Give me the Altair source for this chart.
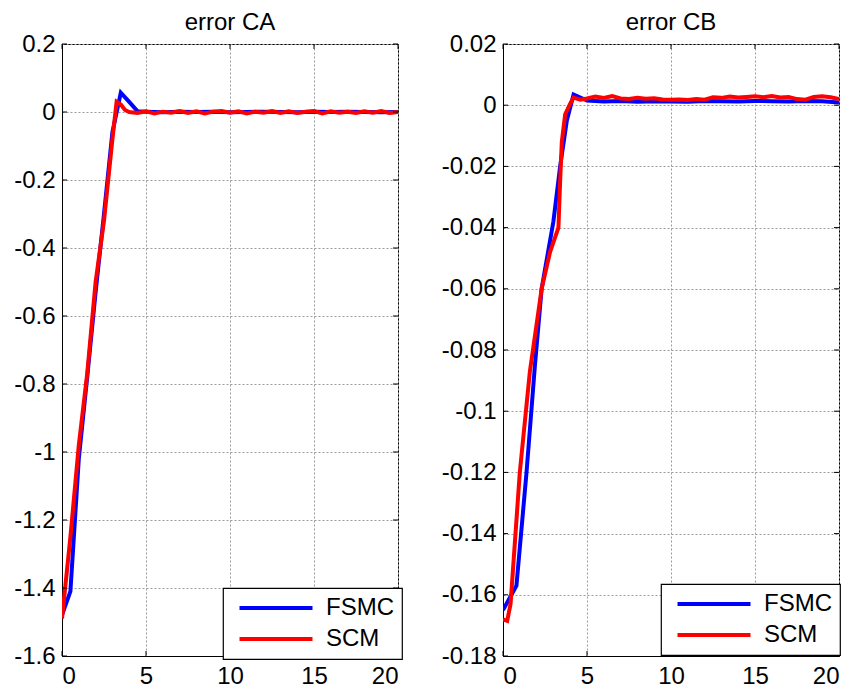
import altair as alt
import pandas as pd

# ---------------- data ----------------
x_ticks = [0, 5, 10, 15, 20]
y_ticks_ca = [-1.6, -1.4, -1.2, -1.0, -0.8, -0.6, -0.4, -0.2, 0.0, 0.2]
y_ticks_cb = [-0.18, -0.16, -0.14, -0.12, -0.10, -0.08, -0.06, -0.04, -0.02, 0.0, 0.02]

# error CA
t_fsmc_ca = [0, 0.5, 1.0, 1.5, 2.0, 2.5, 3.0, 3.5, 4.0, 4.5,
             5, 6, 7, 8, 9, 10, 11, 12, 13, 14, 15, 16, 17, 18, 19, 20]
v_fsmc_ca = [-1.48, -1.41, -1.02, -0.78, -0.53, -0.30, -0.06, 0.057, 0.03, 0.002,
             0.001, -0.001, 0.001, 0.0, 0.001, -0.001, 0.0, 0.001, 0.0, -0.001,
             0.001, 0.0, 0.001, 0.0, -0.001, 0.0]
t_scm_ca = [0, 0.5, 1.0, 1.5, 2.0, 2.5, 3.0, 3.25, 3.5, 3.75, 4.0,
            4.5, 5.0, 5.5, 6.0, 6.5, 7.0, 7.5, 8.0, 8.5, 9.0, 9.5, 10.0, 10.5, 11.0,
            11.5, 12.0, 12.5, 13.0, 13.5, 14.0, 14.5, 15.0, 15.5, 16.0, 16.5, 17.0,
            17.5, 18.0, 18.5, 19.0, 19.5, 20.0]
v_scm_ca = [-1.49, -1.25, -0.98, -0.77, -0.50, -0.32, -0.08, 0.03, 0.022, 0.006, 0.0,
            -0.003, 0.002, -0.004, 0.001, -0.002, 0.003, -0.003, 0.002, -0.004, 0.001,
            0.003, -0.002, 0.002, -0.004, 0.001, -0.002, 0.003, -0.003, 0.002, -0.003,
            0.001, 0.003, -0.004, 0.002, -0.002, 0.001, -0.003, 0.002, -0.002, 0.003,
            -0.003, 0.0]

# error CB
t_fsmc_cb = [0, 0.8, 1.4, 1.9, 2.3, 3.0, 3.4, 3.8, 4.2, 4.6, 5.0,
             6, 7, 8, 9, 10, 11, 12, 13, 14, 15, 16, 17, 18, 19, 20]
v_fsmc_cb = [-0.165, -0.157, -0.12, -0.085, -0.06, -0.038, -0.02, -0.005, 0.0035, 0.0025, 0.0015,
             0.0012, 0.0014, 0.0011, 0.0013, 0.0012, 0.0011, 0.0014, 0.0013, 0.0012, 0.0014,
             0.0013, 0.0012, 0.0014, 0.0013, 0.0009]
t_scm_cb = [0, 0.25, 0.45, 1.0, 1.6, 2.3, 2.8, 3.3, 3.4, 3.5, 3.7, 4.0, 4.2, 4.6,
            5.0, 5.5, 6.0, 6.5, 7.0, 7.5, 8.0, 8.5, 9.0, 9.5, 10.0, 10.5, 11.0, 11.5,
            12.0, 12.5, 13.0, 13.5, 14.0, 14.5, 15.0, 15.5, 16.0, 16.5, 17.0, 17.5,
            18.0, 18.5, 19.0, 19.5, 20.0]
v_scm_cb = [-0.168, -0.1685, -0.163, -0.12, -0.087, -0.06, -0.048, -0.04, -0.025, -0.012,
            -0.003, 0.0005, 0.0025, 0.0018,
            0.0022, 0.0028, 0.0024, 0.0030, 0.0022, 0.0020, 0.0024, 0.0021, 0.0023, 0.0019,
            0.0018, 0.0019, 0.0017, 0.0020, 0.0018, 0.0026, 0.0024, 0.0028, 0.0025, 0.0027,
            0.0029, 0.0026, 0.0030, 0.0025, 0.0027, 0.0020, 0.0018, 0.0027, 0.0029, 0.0026,
            0.0020]

series_names = ["FSMC", "SCM"]
series_colors = ["#0000ff", "#ff0000"]

# ---------------- styling ----------------
FONT = "Liberation Sans"
FS = 24
W, H = 336, 612


def panel(t_f, v_f, t_s, v_s, yticks, title, rnd, lx, ly):
    df = pd.DataFrame({
        "t": t_f + t_s,
        "v": v_f + v_s,
        "series": ["FSMC"] * len(t_f) + ["SCM"] * len(t_s),
    })
    x_enc = alt.X("t:Q", scale=alt.Scale(domain=[0, 20], nice=False),
                  axis=alt.Axis(values=x_ticks, title=None, labelPadding=8))
    y_enc = alt.Y("v:Q", scale=alt.Scale(domain=[yticks[0], yticks[-1]], nice=False, zero=False),
                  axis=alt.Axis(values=yticks, title=None, labelPadding=7,
                                labelExpr=f"'' + round(datum.value*{rnd})/{rnd}"))
    lines = alt.Chart(df).mark_line(strokeWidth=4, clip=True).encode(
        x=x_enc, y=y_enc,
        color=alt.Color("series:N",
                        scale=alt.Scale(domain=series_names, range=series_colors),
                        legend=alt.Legend(
                            title=None, orient="none", legendX=lx, legendY=ly,
                            fillColor="white", strokeColor="black",
                            padding=8, symbolOffset=33,
                            symbolType="M-4,0H4", symbolSize=333, symbolStrokeWidth=4,
                            labelFont=FONT, labelFontSize=FS, labelColor="black",
                            labelOffset=38, rowPadding=7,
                            labelExpr="datum.label + '  '")),
    )
    xt = pd.DataFrame({"t": x_ticks})
    yt = pd.DataFrame({"v": yticks})
    tb = alt.Chart(xt).mark_rule(color="black", strokeWidth=1).encode(
        x=x_enc, y=alt.value(H), y2=alt.value(H - 5))
    tt = alt.Chart(xt).mark_rule(color="black", strokeWidth=1).encode(
        x=x_enc, y=alt.value(0), y2=alt.value(5))
    tl = alt.Chart(yt).mark_rule(color="black", strokeWidth=1).encode(
        y=y_enc, x=alt.value(0), x2=alt.value(5))
    tr = alt.Chart(yt).mark_rule(color="black", strokeWidth=1).encode(
        y=y_enc, x=alt.value(W - 5), x2=alt.value(W))
    return alt.layer(lines, tb, tt, tl, tr).properties(
        width=W, height=H,
        title=alt.TitleParams(title, font=FONT, fontSize=FS, fontWeight="normal",
                              color="black", offset=-3, anchor="middle"))


left = panel(t_fsmc_ca, v_fsmc_ca, t_scm_ca, v_scm_ca, y_ticks_ca, "error CA", 100, 161, 544)
right = panel(t_fsmc_cb, v_fsmc_cb, t_scm_cb, v_scm_cb, y_ticks_cb, "error CB", 1000, 158, 540)

chart = alt.hconcat(left, right, spacing=105, bounds="flush").resolve_scale(
    x="independent", y="independent", color="independent"
).properties(
    padding={"left": 5, "top": 2, "right": 2, "bottom": 0},
    background="white",
).configure_view(
    stroke="black", strokeWidth=1
).configure_axis(
    grid=True, gridColor="#9a9a9a", gridDash=[2, 2], gridWidth=1,
    domain=True, domainColor="black", domainWidth=1,
    ticks=False,
    labelFont=FONT, labelFontSize=FS, labelColor="black",
).configure_legend(
    strokeWidth=1.2
)

chart.save("out.html", embed_options={"renderer": "svg", "actions": False})
